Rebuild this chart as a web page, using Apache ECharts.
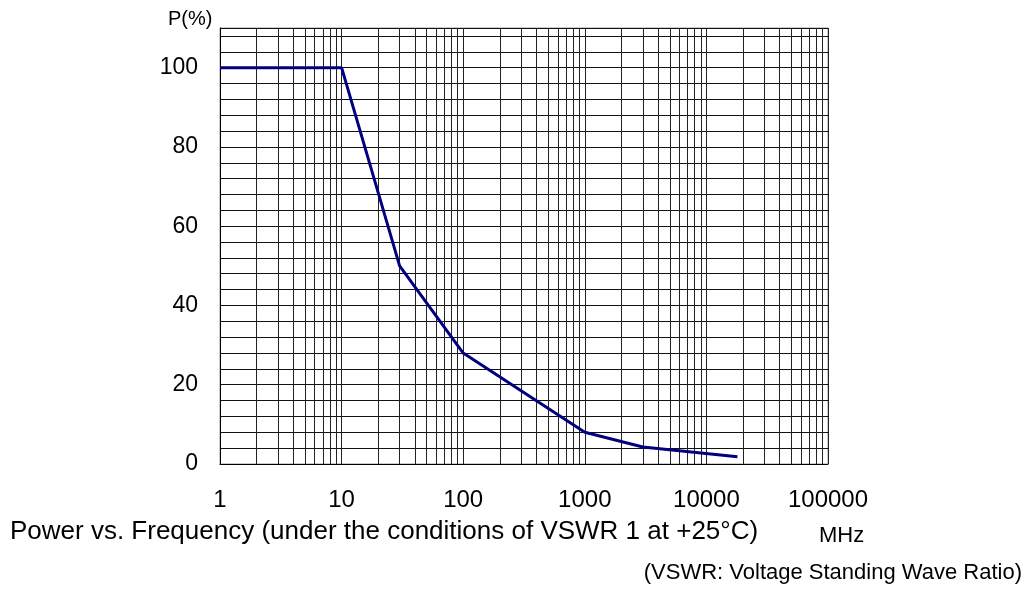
<!DOCTYPE html>
<html>
<head>
<meta charset="utf-8">
<script src="https://cdn.jsdelivr.net/npm/echarts@6/dist/echarts.min.js"></script>
<style>
html,body{margin:0;padding:0;background:#fff;}
#c{width:1031px;height:590px;}
</style>
</head>
<body>
<div id="c"></div>
<script>
// Data
var freqMHz = [1, 10, 30, 100, 1000, 3000, 18000];
var powerPct = [100, 100, 50, 28, 8, 4.3, 1.8];
var minorGrid = [2,3,4,5,6,7,8,9,20,30,40,50,60,70,80,90,200,300,400,500,600,700,800,900,
  2000,3000,4000,5000,6000,7000,8000,9000,20000,30000,40000,50000,60000,70000,80000,90000];
var yLabelValues = [0, 20, 40, 60, 80, 100];
var titleText = 'Power vs. Frequency (under the conditions of VSWR 1 at +25°C)';
var unitText = 'MHz';
var noteText = '(VSWR: Voltage Standing Wave Ratio)';
var yName = 'P(%)';

var chart = echarts.init(document.getElementById('c'), null, {renderer: 'canvas'});
var font = 'Liberation Sans, Arial, sans-serif';
chart.setOption({
  animation: false,
  backgroundColor: '#fff',
  grid: {left: 220, right: 203, top: 28, bottom: 126, show: true, borderColor: '#999', borderWidth: 1},
  xAxis: {
    type: 'log', logBase: 10, min: 1, max: 100000,
    axisLine: {show: true, onZero: false, lineStyle: {color: '#000', width: 1}},
    axisTick: {show: false},
    axisLabel: {fontSize: 24, color: '#000', fontFamily: font, margin: 24,
      formatter: function (v) { return String(Math.round(v)); }},
    splitLine: {show: true, lineStyle: {color: '#222', width: 1}},
    minorSplitLine: {show: false}
  },
  yAxis: {
    type: 'value', min: 0, max: 110, interval: 4,
    axisLine: {show: true, lineStyle: {color: '#000', width: 1}},
    axisTick: {show: false},
    axisLabel: {fontSize: 23, color: '#000', fontFamily: font, margin: 22,
      formatter: function (v) { return yLabelValues.indexOf(v) >= 0 ? String(v) : ''; }},
    splitLine: {show: true, lineStyle: {color: '#111', width: 1}}
  },
  graphic: [
    {type: 'text', left: 168, top: 9, style: {text: yName, font: '20px ' + font, fill: '#000'}},
    {type: 'text', left: 10, top: 519, style: {text: titleText, font: '26px ' + font, fill: '#000'}},
    {type: 'text', left: 819, top: 525, style: {text: unitText, font: '22px ' + font, fill: '#000'}},
    {type: 'text', right: 9, top: 562, style: {text: noteText, font: '22px ' + font, fill: '#000'}}
  ],
  series: [{
    type: 'line',
    data: freqMHz.map(function (f, i) { return [f, powerPct[i]]; }),
    symbol: 'none',
    lineStyle: {color: '#000080', width: 3},
    z: 5,
    markLine: {
      silent: true, symbol: 'none', animation: false,
      label: {show: false},
      lineStyle: {color: '#222', width: 1, type: 'solid'},
      data: minorGrid.map(function (v) { return {xAxis: v}; }),
      z: 1
    }
  }]
});
</script>
</body>
</html>
